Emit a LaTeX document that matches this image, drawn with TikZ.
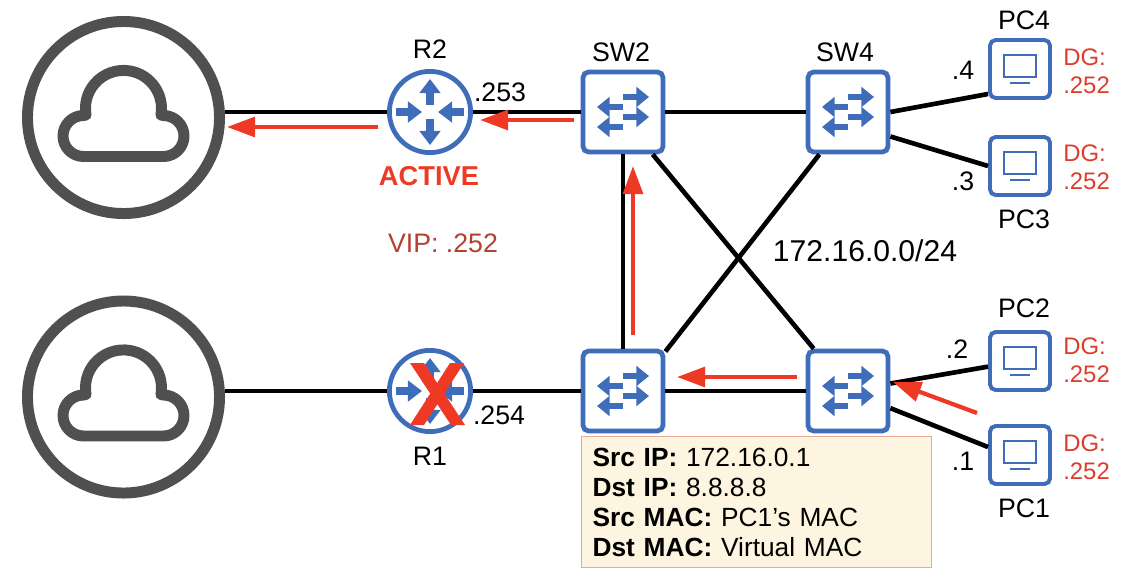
\documentclass[tikz,border=0pt]{standalone}
\usepackage{fontspec}
\setmainfont{Liberation Sans}
\usetikzlibrary{arrows.meta}
\definecolor{iconblue}{HTML}{3F6DB9}
\definecolor{cloudgrey}{HTML}{505050}
\definecolor{flowred}{HTML}{EE3A24}
\definecolor{vipred}{HTML}{B5402F}
\definecolor{dgred}{HTML}{DC3D2B}
\definecolor{boxfill}{HTML}{FDF5DF}
\definecolor{boxline}{HTML}{EBA797}
\tikzset{
  txt/.style={font=\fontsize{19}{22}\selectfont, inner sep=0pt},
  router/.style={circle, draw=iconblue, line width=3.4pt, minimum size=2.03cm, inner sep=0pt},
  switch/.style={rectangle, rounded corners=4pt, draw=iconblue, line width=3.4pt, minimum width=2.0cm, minimum height=2.0cm},
  host/.style={rectangle, rounded corners=4pt, draw=iconblue, line width=2.8pt, minimum width=1.5cm, minimum height=1.45cm},
  cloudring/.style={circle, draw=cloudgrey, line width=7.8pt, minimum size=4.8cm, inner sep=0pt},
  link/.style={line width=3.3pt, black},
  flow/.style={line width=3pt, flowred, -{Triangle[length=20pt,width=14pt]}},
  dg/.style={font=\fontsize{17}{20}\selectfont, text=dgred, align=left, anchor=west, inner sep=0pt},
  blue arrow/.style={line width=5pt, iconblue, -{Triangle[length=10pt,width=14.5pt]}},
  swap arrow/.style={line width=4.5pt, iconblue, -{Triangle[length=9pt,width=14pt]}},
  pics/routericon/.style={code={
    \draw[blue arrow] (0,-7) -- (0,-33);
    \draw[blue arrow] (0,7) -- (0,33);
    \draw[blue arrow] (-34,0) -- (-8,0);
    \draw[blue arrow] (34,0) -- (8,0);
  }},
  pics/switchicon/.style={code={
    \draw[swap arrow] (0,-15) -- (26,-15);
    \draw[swap arrow] (0,-5) -- (-26,-5);
    \draw[swap arrow] (0,5) -- (26,5);
    \draw[swap arrow] (0,15) -- (-26,15);
  }},
  pics/pcicon/.style={code={
    \draw[iconblue, line width=2pt] (-16,-14) rectangle (16,8);
    \draw[iconblue, line width=2pt] (-10,14) -- (10,14);
  }},
  pics/cloudicon/.style={code={
    \draw[cloudgrey, line width=7.8pt, line join=round]
      (-40,39) -- (40,39) arc[start angle=90, end angle=-90, radius=20.5]
      -- (37.4,-2.5) arc[start angle=10, end angle=-190, radius=38]
      -- (-40,-2) arc[start angle=-90, end angle=-270, radius=20.5] -- cycle;
  }}
}
\begin{document}
\begin{tikzpicture}[x=0.025cm,y=-0.025cm]
  \useasboundingbox (0,0) rectangle (1128,574);

  % Clouds
  \node[cloudring] (cloudtop) at (123.5,117.5) {};
  \node[cloudring] (cloudbot) at (123.5,397) {};
  \pic at (cloudtop) {cloudicon};
  \pic at (cloudbot) {cloudicon};

  % Routers
  \node[router] (r2) at (430,112) {};
  \node[router] (r1) at (430,391) {};
  \pic at (r2) {routericon};
  \pic at (r1) {routericon};

  % Switches
  \node[switch] (sw2) at (623,112) {};
  \node[switch] (sw4) at (848,112) {};
  \node[switch] (sw1) at (623,391) {};
  \node[switch] (sw3) at (848,391) {};
  \pic at (sw2) {switchicon};
  \pic at (sw4) {switchicon};
  \pic at (sw1) {switchicon};
  \pic at (sw3) {switchicon};

  % PCs
  \node[host] (pc4) at (1020,69) {};
  \node[host] (pc3) at (1020,166) {};
  \node[host] (pc2) at (1020,361) {};
  \node[host] (pc1) at (1020,455) {};
  \pic at (pc4) {pcicon};
  \pic at (pc3) {pcicon};
  \pic at (pc2) {pcicon};
  \pic at (pc1) {pcicon};

  % Links
  \draw[link] (cloudtop.east |- r2) -- (r2);
  \draw[link] (r2) -- (sw2);
  \draw[link] (sw2) -- (sw4);
  \draw[link] (cloudbot.east |- r1) -- (r1);
  \draw[link] (r1) -- (sw1);
  \draw[link] (sw1) -- (sw3);
  \draw[link] (sw2) -- (sw1);
  \draw[link] (sw2.-55) -- (sw3.129);
  \draw[link] (sw4.236) -- (sw1.43);
  \draw[link] (sw4.east) -- (pc4.218);
  \draw[link] (sw4.-30) -- (pc3.west);
  \draw[link] (sw3.10) -- (pc2.190);
  \draw[link] (sw3.-22) -- (pc1.166);

  % Traffic path
  \coordinate (flowa) at (977,413);
  \coordinate (flowb) at (893,382);
  \coordinate (flowc) at (797,377);
  \coordinate (flowd) at (677,377);
  \coordinate (flowe) at (633,335);
  \coordinate (flowf) at (633,166);
  \coordinate (flowg) at (574,120);
  \coordinate (flowh) at (480,120);
  \coordinate (flowi) at (378,127);
  \coordinate (flowj) at (227,127);
  \draw[flow] (flowa) -- (flowb);
  \draw[flow] (flowc) -- (flowd);
  \draw[flow] (flowe) -- (flowf);
  \draw[flow] (flowg) -- (flowh);
  \draw[flow] (flowi) -- (flowj);

  % Cross on R1
  \fill[flowred] (410,363) -- (424,363) -- (465,425) -- (451,425) -- cycle;
  \fill[flowred] (464,363) -- (450,363) -- (410,425) -- (424,425) -- cycle;

  % Device names
  \node[txt] (namer2) at (430,49) {R2};
  \node[txt] (namer1) at (430,456) {R1};
  \node[txt] (namesw2) at (621,52) {SW2};
  \node[txt] (namesw4) at (845,52) {SW4};
  \node[txt] (namepc4) at (1024,20) {PC4};
  \node[txt] (namepc3) at (1024,219) {PC3};
  \node[txt] (namepc2) at (1024,308) {PC2};
  \node[txt] (namepc1) at (1024,508) {PC1};

  % Addresses
  \node[txt] (ip253) at (500,92) {.253};
  \node[txt] (ip254) at (499,415) {.254};
  \node[txt] (ip4) at (963,70) {.4};
  \node[txt] (ip3) at (963,181) {.3};
  \node[txt] (ip2) at (957,349) {.2};
  \node[txt] (ip1) at (963,461) {.1};
  \node[font=\fontsize{21.4}{24}\selectfont, inner sep=0pt] (subnet) at (865,251) {172.16.0.0/24};

  % Gateway notes
  \node[dg] (dgpc4) at (1063,71) {DG:\\.252};
  \node[dg] (dgpc3) at (1063,167) {DG:\\.252};
  \node[dg] (dgpc2) at (1063,360) {DG:\\.252};
  \node[dg] (dgpc1) at (1063,457) {DG:\\.252};

  % HSRP state
  \node[font=\bfseries\fontsize{19.4}{22}\selectfont, text=flowred, inner sep=0pt] (active) at (429,176) {ACTIVE};
  \node[font=\fontsize{19}{22}\selectfont, text=vipred, inner sep=0pt] (vip) at (443,243) {VIP: .252};

  % Packet headers
  \node[draw=boxline, fill=boxfill, line width=0.8pt, anchor=north west, inner xsep=0.275cm, inner ysep=0.2cm,
        text width=8.2cm, minimum height=3.275cm, align=left, font=\fontsize{18.7}{21.3}\selectfont] (headers) at (581,436)
    {\textbf{Src IP:} 172.16.0.1\\
     \textbf{Dst IP:} 8.8.8.8\\
     \textbf{Src MAC:} PC1’s MAC\\
     \textbf{Dst MAC:} Virtual MAC};
\end{tikzpicture}
\end{document}
